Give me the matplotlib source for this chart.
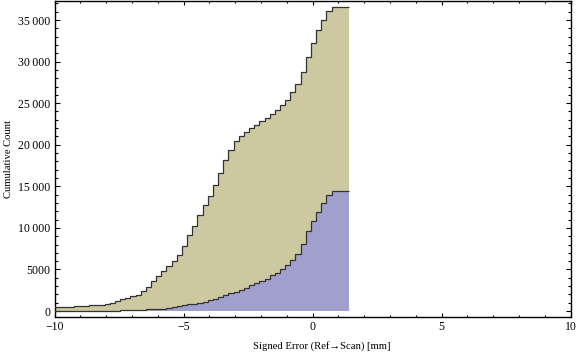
import matplotlib.pyplot as plt
import matplotlib.ticker as tkr
import numpy as np

# bin edges of the cumulative histogram (width 0.2 mm, data stops at 1.4)
edges = np.append(np.round(np.arange(-10.06, 1.3, 0.2), 2), 1.4)

all_counts = [
    460, 460, 460, 460, 590, 590, 590, 730, 730, 730,
    900, 1020, 1200, 1420, 1580, 1780, 1980, 2450, 2930, 3650,
    4210, 4770, 5390, 5980, 6680, 7800, 9100, 10220, 11510, 12710,
    13800, 15190, 16560, 18130, 19330, 20410, 21010, 21500, 22010, 22380,
    22860, 23220, 23660, 24180, 24780, 25380, 26310, 27270, 28710, 30520,
    32200, 33770, 34970, 36050, 36530, 36530, 36530,
]
sub_counts = [
    0, 0, 0, 0, 0, 0, 0, 0, 0, 0,
    0, 0, 0, 80, 80, 80, 80, 80, 200, 200,
    200, 280, 380, 460, 560, 690, 800, 830, 920, 1050,
    1290, 1440, 1680, 1900, 2150, 2270, 2530, 2750, 3090, 3330,
    3650, 3910, 4290, 4630, 5030, 5510, 6120, 6900, 8060, 9620,
    10790, 11910, 12950, 13950, 14400, 14400, 14400,
]

x_major = [-10, -5, 0, 5, 10]
y_major = [0, 5000, 10000, 15000, 20000, 25000, 30000, 35000]

c_all = "#ccc8a0"
c_sub = "#a09fce"
c_edge = "#333333"

plt.rcParams['font.family'] = ['Liberation Serif', 'DejaVu Serif']

fig = plt.figure(figsize=(5.76, 3.57), dpi=100)
ax = fig.add_axes([54.5 / 576, 1 - 317 / 357, 516 / 576, 316.5 / 357])

ax.stairs(all_counts, edges, fill=True, color=c_all, baseline=0, zorder=1)
ax.stairs(sub_counts, edges, fill=True, color=c_sub, baseline=0, zorder=2)
ax.stairs(all_counts, edges, baseline=None, color=c_edge, linewidth=0.9, zorder=3)
ax.stairs(sub_counts, edges, baseline=None, color=c_edge, linewidth=0.9, zorder=3)

ax.set_xlim(-10, 10)
ax.set_ylim(-720, 37350)


def count_fmt(x, pos):
    if abs(x) < 10000:
        return '%d' % x
    return '{:,}'.format(int(x)).replace(',', '\u2009')


def minus_fmt(x, pos):
    return ('%d' % x).replace('-', '\u2212')


ax.set_xticks(x_major)
ax.set_yticks(y_major)
ax.xaxis.set_minor_locator(tkr.MultipleLocator(1))
ax.yaxis.set_minor_locator(tkr.MultipleLocator(1000))
ax.xaxis.set_major_formatter(tkr.FuncFormatter(minus_fmt))
ax.yaxis.set_major_formatter(tkr.FuncFormatter(count_fmt))

ax.tick_params(which='both', direction='in', top=True, right=True, width=0.8,
               labelsize=8.5, colors='black')
ax.tick_params(axis='x', which='major', length=2.6, pad=3)
ax.tick_params(axis='x', which='minor', length=1.5)
ax.tick_params(axis='y', which='major', length=3.6, pad=3)
ax.tick_params(axis='y', which='minor', length=2.2)

for s in ax.spines.values():
    s.set_linewidth(1.0)

ax.set_xlabel('Signed Error (Ref\u2192Scan) [mm]', fontsize=7.7, labelpad=7)
ax.xaxis.set_label_coords(0.517, -0.075)
ax.set_ylabel('Cumulative Count', fontsize=7.7, labelpad=4)

plt.savefig('out.png', dpi=100)
